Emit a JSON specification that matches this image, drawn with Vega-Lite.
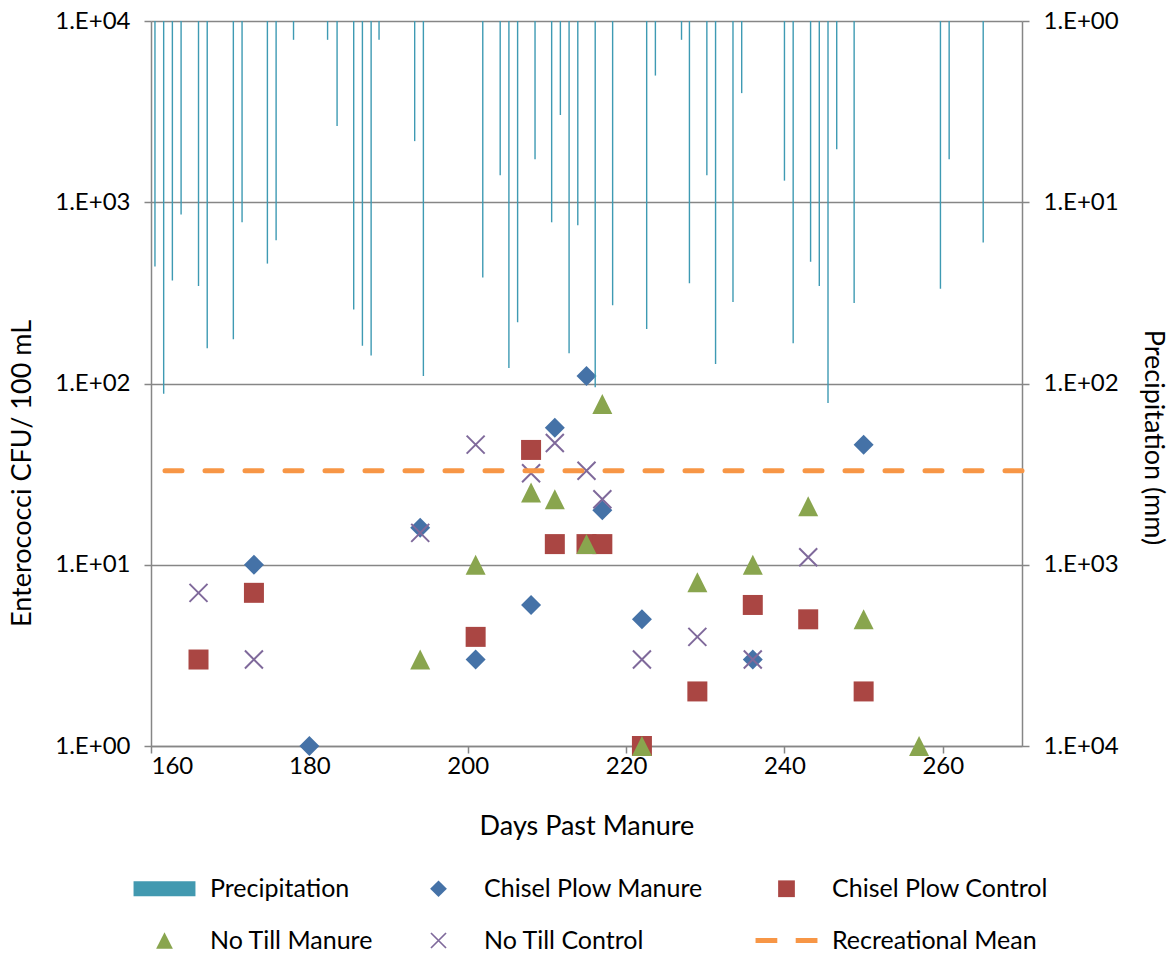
{
  "$schema": "https://vega.github.io/schema/vega-lite/v6.json",
  "width": 871,
  "height": 725,
  "autosize": {"type": "none"},
  "padding": {"left": 151, "top": 21, "right": 154, "bottom": 207},
  "background": "white",
  "config": {
    "font": "Lato",
    "view": {"stroke": null},
    "axis": {
      "labelFont": "Lato",
      "labelFontSize": 24,
      "labelColor": "#000000",
      "titleFont": "Lato",
      "titleFontSize": 27,
      "titleFontWeight": "normal",
      "titleColor": "#000000",
      "domainColor": "#868686",
      "domainWidth": 1.5,
      "tickColor": "#868686",
      "tickWidth": 1.5,
      "tickSize": 7,
      "gridColor": "#868686",
      "gridWidth": 1.5
    }
  },
  "datasets": {
    "precip": [
      {"day": 160.5, "precip": 22.6}, {"day": 161.6, "precip": 114}, {"day": 162.7, "precip": 27},
      {"day": 163.8, "precip": 11.7}, {"day": 166.0, "precip": 29}, {"day": 167.1, "precip": 64},
      {"day": 170.4, "precip": 57}, {"day": 171.5, "precip": 12.9}, {"day": 174.7, "precip": 21.8},
      {"day": 175.8, "precip": 16.2}, {"day": 178.0, "precip": 1.27}, {"day": 182.3, "precip": 1.27},
      {"day": 183.5, "precip": 3.8}, {"day": 185.6, "precip": 39}, {"day": 186.7, "precip": 62},
      {"day": 187.8, "precip": 70}, {"day": 188.8, "precip": 1.27}, {"day": 193.3, "precip": 4.6},
      {"day": 194.4, "precip": 91}, {"day": 201.9, "precip": 26}, {"day": 204.1, "precip": 7.1},
      {"day": 205.2, "precip": 82}, {"day": 206.3, "precip": 46}, {"day": 208.5, "precip": 5.8},
      {"day": 210.6, "precip": 12.9}, {"day": 211.7, "precip": 3.3}, {"day": 212.8, "precip": 68},
      {"day": 213.9, "precip": 13.4}, {"day": 216.1, "precip": 105}, {"day": 218.3, "precip": 37},
      {"day": 222.6, "precip": 50}, {"day": 223.7, "precip": 2.0}, {"day": 227.0, "precip": 1.27},
      {"day": 228.0, "precip": 28}, {"day": 230.2, "precip": 7.1}, {"day": 231.3, "precip": 78},
      {"day": 233.5, "precip": 35.5}, {"day": 234.6, "precip": 2.5}, {"day": 240.0, "precip": 7.6},
      {"day": 241.1, "precip": 60}, {"day": 243.3, "precip": 21.3}, {"day": 244.4, "precip": 29},
      {"day": 245.5, "precip": 128}, {"day": 246.6, "precip": 5.1}, {"day": 248.8, "precip": 36},
      {"day": 259.7, "precip": 30}, {"day": 260.8, "precip": 5.8}, {"day": 265.1, "precip": 16.7}
    ],
    "points": [
      {"series": "Chisel Plow Manure", "day": 173, "cfu": 10},
      {"series": "Chisel Plow Manure", "day": 180, "cfu": 1},
      {"series": "Chisel Plow Manure", "day": 194, "cfu": 16},
      {"series": "Chisel Plow Manure", "day": 201, "cfu": 3},
      {"series": "Chisel Plow Manure", "day": 208, "cfu": 6},
      {"series": "Chisel Plow Manure", "day": 211, "cfu": 57},
      {"series": "Chisel Plow Manure", "day": 215, "cfu": 110},
      {"series": "Chisel Plow Manure", "day": 217, "cfu": 20},
      {"series": "Chisel Plow Manure", "day": 222, "cfu": 5},
      {"series": "Chisel Plow Manure", "day": 236, "cfu": 3},
      {"series": "Chisel Plow Manure", "day": 250, "cfu": 46},
      {"series": "Chisel Plow Control", "day": 166, "cfu": 3},
      {"series": "Chisel Plow Control", "day": 173, "cfu": 7},
      {"series": "Chisel Plow Control", "day": 201, "cfu": 4},
      {"series": "Chisel Plow Control", "day": 208, "cfu": 43},
      {"series": "Chisel Plow Control", "day": 211, "cfu": 13},
      {"series": "Chisel Plow Control", "day": 215, "cfu": 13},
      {"series": "Chisel Plow Control", "day": 217, "cfu": 13},
      {"series": "Chisel Plow Control", "day": 222, "cfu": 1},
      {"series": "Chisel Plow Control", "day": 229, "cfu": 2},
      {"series": "Chisel Plow Control", "day": 236, "cfu": 6},
      {"series": "Chisel Plow Control", "day": 243, "cfu": 5},
      {"series": "Chisel Plow Control", "day": 250, "cfu": 2},
      {"series": "No Till Manure", "day": 194, "cfu": 3},
      {"series": "No Till Manure", "day": 201, "cfu": 10},
      {"series": "No Till Manure", "day": 208, "cfu": 25},
      {"series": "No Till Manure", "day": 211, "cfu": 23},
      {"series": "No Till Manure", "day": 215, "cfu": 13},
      {"series": "No Till Manure", "day": 217, "cfu": 77},
      {"series": "No Till Manure", "day": 222, "cfu": 1},
      {"series": "No Till Manure", "day": 229, "cfu": 8},
      {"series": "No Till Manure", "day": 236, "cfu": 10},
      {"series": "No Till Manure", "day": 243, "cfu": 21},
      {"series": "No Till Manure", "day": 250, "cfu": 5},
      {"series": "No Till Manure", "day": 257, "cfu": 1},
      {"series": "No Till Control", "day": 166, "cfu": 7},
      {"series": "No Till Control", "day": 173, "cfu": 3},
      {"series": "No Till Control", "day": 194, "cfu": 15},
      {"series": "No Till Control", "day": 201, "cfu": 46},
      {"series": "No Till Control", "day": 208, "cfu": 32},
      {"series": "No Till Control", "day": 211, "cfu": 47},
      {"series": "No Till Control", "day": 215, "cfu": 33},
      {"series": "No Till Control", "day": 217, "cfu": 23},
      {"series": "No Till Control", "day": 222, "cfu": 3},
      {"series": "No Till Control", "day": 229, "cfu": 4},
      {"series": "No Till Control", "day": 236, "cfu": 3},
      {"series": "No Till Control", "day": 243, "cfu": 11}
    ],
    "mean": [{"series": "Recreational Mean", "cfu": 33}]
  },
  "encoding": {
    "x": {
      "field": "day",
      "type": "quantitative",
      "scale": {"domain": [160, 270], "nice": false, "zero": false},
      "axis": {
        "values": [160, 180, 200, 220, 240, 260],
        "title": "Days Past Manure",
        "grid": false,
        "labelPadding": 1,
        "titlePadding": 35
      }
    }
  },
  "layer": [
    {
      "layer": [
        {
          "data": {"name": "points"},
          "mark": {"type": "point", "filled": true, "opacity": 1, "size": 400},
          "encoding": {
            "y": {
              "field": "cfu",
              "type": "quantitative",
              "scale": {"type": "log", "domain": [1, 10000], "nice": false},
              "axis": {
                "orient": "left",
                "values": [1, 10, 100, 1000, 10000],
                "labelExpr": "'1.E+0' + round(log(datum.value) / LN10)",
                "title": "Enterococci CFU/ 100 mL",
                "grid": true,
                "labelPadding": 14,
                "titlePadding": 18,
                "titleY": 452
              }
            },
            "color": {
              "field": "series",
              "type": "nominal",
              "scale": {
                "domain": ["Precipitation", "Chisel Plow Manure", "Chisel Plow Control", "No Till Manure", "No Till Control", "Recreational Mean"],
                "range": ["#4299B0", "#4572A7", "#AA4643", "#89A54E", "#7F699B", "#F79646"]
              },
              "legend": {
                "title": null,
                "orient": "none",
                "legendX": 1,
                "legendY": 855,
                "direction": "horizontal",
                "columns": 3,
                "symbolSize": 280,
                "labelFont": "Lato",
                "labelFontSize": 25,
                "labelColor": "#000000",
                "labelOffset": 33,
                "labelLimit": 400,
                "columnPadding": 52,
                "rowPadding": 26,
                "padding": 0,
                "symbolStrokeWidth": 0
              }
            },
            "shape": {
              "field": "series",
              "type": "nominal",
              "scale": {
                "domain": ["Precipitation", "Chisel Plow Manure", "Chisel Plow Control", "No Till Manure", "No Till Control", "Recreational Mean"],
                "range": [
                  "M-3.7,-0.9H3.7V0.9H-3.7Z",
                  "diamond",
                  "square",
                  "M0,-1L1,1L-1,1Z",
                  "M-0.83,-0.97L0.97,0.83L0.83,0.97L-0.97,-0.83Z M0.97,-0.83L-0.83,0.97L-0.97,0.83L0.83,-0.97Z",
                  "M-3.7,-0.3H-1.1V0.3H-3.7Z M1.1,-0.3H3.7V0.3H1.1Z"
                ]
              },
              "legend": {
                "title": null,
                "orient": "none",
                "legendX": 1,
                "legendY": 855,
                "direction": "horizontal",
                "columns": 3,
                "symbolSize": 280,
                "labelFont": "Lato",
                "labelFontSize": 25,
                "labelColor": "#000000",
                "labelOffset": 33,
                "labelLimit": 400,
                "columnPadding": 52,
                "rowPadding": 26,
                "padding": 0,
                "symbolStrokeWidth": 0
              }
            }
          }
        },
        {
          "data": {"name": "mean"},
          "mark": {"type": "rule", "color": "#F79646", "strokeWidth": 5, "strokeDash": [17, 23], "strokeCap": "round"},
          "encoding": {
            "x": null,
            "y": {"field": "cfu", "type": "quantitative"}
          }
        }
      ]
    },
    {
      "data": {"name": "precip"},
      "mark": {"type": "rule", "color": "#3E9AB3", "strokeWidth": 1.4},
      "encoding": {
        "y": {
          "field": "precip",
          "type": "quantitative",
          "scale": {"type": "log", "domain": [1, 10000], "nice": false, "reverse": true},
          "axis": {
            "orient": "right",
            "values": [1, 10, 100, 1000, 10000],
            "labelExpr": "'1.E+0' + round(log(datum.value) / LN10)",
            "title": "Precipitation (mm)",
            "grid": false,
            "labelPadding": 14,
            "titlePadding": 20,
            "titleY": 416
          }
        },
        "y2": {"datum": 1}
      }
    }
  ],
  "resolve": {"scale": {"y": "independent"}}
}
